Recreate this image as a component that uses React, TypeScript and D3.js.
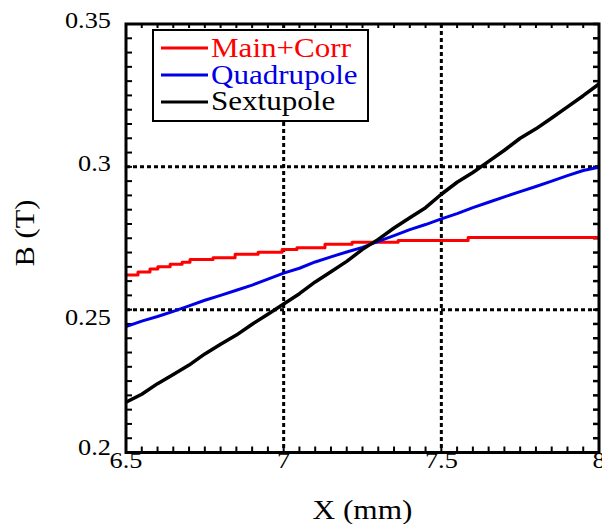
import React from "react";
import * as d3 from "d3";

const X_GRID = [6.5, 6.55, 6.6, 6.65, 6.7, 6.75, 6.8, 6.85, 6.9, 6.95, 7.0, 7.05, 7.1, 7.15, 7.2, 7.25, 7.3, 7.35, 7.4, 7.45, 7.5, 7.55, 7.6, 7.65, 7.7, 7.75, 7.8, 7.85, 7.9, 7.95, 8.0];
const QUAD_B = [0.2441, 0.246, 0.2476, 0.2494, 0.2513, 0.2533, 0.255, 0.2568, 0.2586, 0.2607, 0.2628, 0.2645, 0.2667, 0.2685, 0.2702, 0.2718, 0.2739, 0.2759, 0.278, 0.2798, 0.2818, 0.2836, 0.2857, 0.2876, 0.2895, 0.2913, 0.2931, 0.295, 0.2969, 0.2987, 0.2999];
const SEXT_B = [0.2176, 0.2204, 0.2241, 0.2273, 0.2306, 0.2345, 0.2379, 0.2411, 0.2449, 0.2484, 0.252, 0.2556, 0.2597, 0.2633, 0.2669, 0.2711, 0.2746, 0.2786, 0.2822, 0.2857, 0.2904, 0.2946, 0.298, 0.3019, 0.3058, 0.31, 0.3133, 0.3171, 0.321, 0.3249, 0.329];
// Main+Corr is a staircase: x where each step starts, and its value
const MAIN_X = [6.5, 6.538, 6.576, 6.601, 6.64, 6.678, 6.703, 6.776, 6.846, 6.919, 6.995, 7.042, 7.131, 7.217, 7.363, 7.585, 8.0];
const MAIN_B = [0.2621, 0.2632, 0.2642, 0.265, 0.2659, 0.2666, 0.2676, 0.2682, 0.2694, 0.2701, 0.2711, 0.2717, 0.2729, 0.2736, 0.2742, 0.2753, 0.2753];

const X_TICKS = [6.5, 7, 7.5, 8];
const X_TICK_LABELS = ["6.5", "7", "7.5", "8"];
const Y_TICKS = [0.2, 0.25, 0.3, 0.35];
const Y_TICK_LABELS = ["0.2", "0.25", "0.3", "0.35"];
const X_GRIDLINES = [7, 7.5];
const Y_GRIDLINES = [0.25, 0.3];
const SERIES_NAMES = ["Main+Corr", "Quadrupole", "Sextupole"];
const SERIES_COLORS = ["#ff0000", "#0000e6", "#000000"];

const FONT = '"Liberation Serif", Tinos, "Times New Roman", Times, "DejaVu Serif", serif';

export default function App() {
  const L = 126, R = 599, T = 24, B = 452.5;
  const x = d3.scaleLinear().domain([6.5, 8]).range([L, R]);
  const y = d3.scaleLinear().domain([0.2, 0.35]).range([B, T]);

  const stepLine = d3
    .line<number>()
    .x((_, i) => x(MAIN_X[i]))
    .y((d) => y(d))
    .curve(d3.curveStepAfter);
  const lin = d3
    .line<number>()
    .x((_, i) => x(X_GRID[i]))
    .y((d) => y(d));

  const xMinor = x.ticks(30);
  const yMinor = y.ticks(30);
  const yLabelDy = [-5, 7.5, -4, -4];

  const paths = [stepLine(MAIN_B), lin(QUAD_B), lin(SEXT_B)];
  const widths = [3, 3, 3.5];
  const tstyle = { fontFamily: FONT } as React.CSSProperties;

  return (
    <svg width={602} height={524} style={{ position: "absolute", left: 0, top: 0, background: "#fff" }}>
      <defs>
        <clipPath id="plot">
          <rect x={L} y={T} width={R - L} height={B - T} />
        </clipPath>
      </defs>
      <rect x={0} y={0} width={602} height={524} fill="#fff" />
      {X_GRIDLINES.map((v) => (
        <line key={"gx" + v} x1={x(v)} x2={x(v)} y1={T} y2={B} stroke="#000" strokeWidth={3} strokeDasharray="4,3" />
      ))}
      {Y_GRIDLINES.map((v) => (
        <line key={"gy" + v} x1={L} x2={R} y1={y(v)} y2={y(v)} stroke="#000" strokeWidth={3} strokeDasharray="4,3" />
      ))}
      {xMinor.map((v, i) => (
        <g key={"xt" + i}>
          <line x1={x(v)} x2={x(v)} y1={B} y2={B - 6} stroke="#000" strokeWidth={2} />
          <line x1={x(v)} x2={x(v)} y1={T} y2={T + 4} stroke="#000" strokeWidth={2} />
        </g>
      ))}
      {yMinor.map((v, i) => (
        <g key={"yt" + i}>
          <line x1={L} x2={L + 6} y1={y(v)} y2={y(v)} stroke="#000" strokeWidth={2} />
          <line x1={R} x2={R - 6} y1={y(v)} y2={y(v)} stroke="#000" strokeWidth={2.5} />
        </g>
      ))}
      <g clipPath="url(#plot)">
        {paths.map((p, i) => (
          <path key={"s" + i} d={p || ""} fill="none" stroke={SERIES_COLORS[i]} strokeWidth={widths[i]} strokeLinejoin="round" />
        ))}
      </g>
      <rect x={L} y={T} width={R - L} height={B - T} fill="none" stroke="#000" strokeWidth={3} />
      {X_TICKS.map((v, i) => (
        <text key={"xl" + v} transform={`translate(${x(v)},468) scale(1.12,1)`} textAnchor="middle" style={tstyle} fontSize={23.5} fill="#000">
          {X_TICK_LABELS[i]}
        </text>
      ))}
      {Y_TICKS.map((v, i) => (
        <text key={"yl" + v} transform={`translate(111,${y(v) + yLabelDy[i] + 7.8}) scale(1.12,1)`} textAnchor="end" style={tstyle} fontSize={23.5} fill="#000">
          {Y_TICK_LABELS[i]}
        </text>
      ))}
      <text transform="translate(362.5,519) scale(1.16,1)" textAnchor="middle" style={tstyle} fontSize={27} fill="#000">
        X (mm)
      </text>
      <text transform="translate(34,233) rotate(-90) scale(1.13,1)" textAnchor="middle" style={tstyle} fontSize={27} fill="#000">
        B (T)
      </text>
      <rect x={153} y={30} width={215} height={91} fill="#fff" stroke="#000" strokeWidth={2} />
      {SERIES_NAMES.map((n, i) => (
        <g key={"lg" + n}>
          <line x1={161} x2={208} y1={48 + i * 27} y2={48 + i * 27} stroke={SERIES_COLORS[i]} strokeWidth={3} />
          <text transform={`translate(211,${57 + i * 26.7}) scale(1.13,1)`} style={tstyle} fontSize={27.5} fill={SERIES_COLORS[i]}>
            {n}
          </text>
        </g>
      ))}
    </svg>
  );
}
